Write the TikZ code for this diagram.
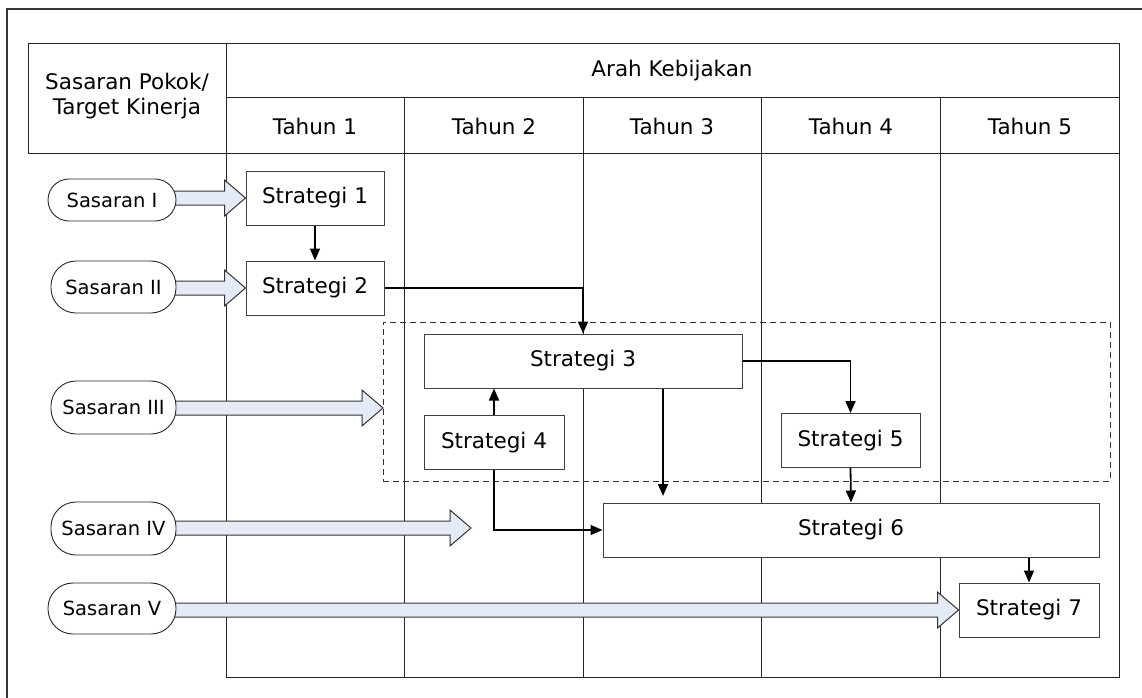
\documentclass[tikz,border=0pt]{standalone}
\usepackage{fontspec}
\setmainfont{DejaVu Sans}
\usetikzlibrary{arrows.meta,calc}

\definecolor{arrowfill}{HTML}{E4EBF6}
\pgfdeclarelayer{gridlayer}
\pgfdeclarelayer{arrowlayer}
\pgfsetlayers{gridlayer,arrowlayer,main}

\tikzset{
  grid/.style={draw=black!85, line width=1pt},
  head/.style={font=\fontsize{21.5}{25.5}\selectfont, inner sep=0pt},
  stepbox/.style={draw=black!75, line width=1pt, fill=white, minimum width=138pt,
    minimum height=54pt, inner sep=0pt, font=\fontsize{21.5}{25}\selectfont},
  goal/.style={draw=black!85, line width=0.9pt, fill=white, rounded corners=25pt,
    inner sep=0pt, font=\fontsize{19.5}{23}\selectfont},
  blockarrow/.style={draw=black!80, line width=1pt, fill=arrowfill, line join=miter},
  conn/.style={draw=black, line width=1.8pt, -{Triangle[length=12pt,width=10pt]}},
  group/.style={draw=black!80, line width=1pt, dash pattern=on 6pt off 4pt, inner sep=0pt}
}

% wide hollow arrow from a goal to the point where its strategy begins
\newcommand\goalarrow[2]{%
  \path let \p1=(#1), \p2=(#2) in [blockarrow]
    (\x1-6pt,\y2+7pt) -- (\x2-21pt,\y2+7pt) -- (\x2-21pt,\y2+18pt) -- (\x2,\y2)
    -- (\x2-21pt,\y2-18pt) -- (\x2-21pt,\y2-7pt) -- (\x1-6pt,\y2-7pt) -- cycle;}

\begin{document}
\begin{tikzpicture}[x=1pt,y=-1pt]
\useasboundingbox (0,0) rectangle (1142,698);

\begin{pgfonlayer}{gridlayer}
% outer frame
\draw[draw=black!80, line width=1.5pt] (7,698) -- (7,9) -- (1142,9);
% table grid
\draw[grid] (28,44) rectangle (226,153);
\draw[grid] (226,44) rectangle (1119,677);
\draw[grid] (226,98) -- (1119,98);
\draw[grid] (226,153) -- (1119,153);
\foreach \x in {404.6,583.2,761.8,940.4}
  \draw[grid] (\x,98) -- (\x,677);
\end{pgfonlayer}

% headings
\node[head, align=center] (hsas) at (127,96) {Sasaran Pokok/\\Target Kinerja};
\node[head] (harah) at (672,71) {Arah Kebijakan};
\node[head] (t1) at (315,126) {Tahun 1};
\node[head] (t2) at (494,126) {Tahun 2};
\node[head] (t3) at (672,126) {Tahun 3};
\node[head] (t4) at (851,126) {Tahun 4};
\node[head] (t5) at (1030,126) {Tahun 5};

% group of strategies 3-5
\node[group, minimum width=727pt, minimum height=159pt] (grp) at (746.5,401.5) {};

% goals
\node[goal, minimum width=128pt, minimum height=42pt, rounded corners=21pt] (s1) at (112,200) {Sasaran I};
\node[goal, minimum width=125pt, minimum height=52pt] (s2) at (113.5,287) {Sasaran II};
\node[goal, minimum width=125pt, minimum height=53pt] (s3) at (113.5,407.5) {Sasaran III};
\node[goal, minimum width=125pt, minimum height=53pt] (s4) at (113.5,528.5) {Sasaran IV};
\node[goal, minimum width=128pt, minimum height=51pt] (s5) at (112,608.5) {Sasaran V};

% strategies
\node[stepbox] (st1) at (315,198) {Strategi 1};
\node[stepbox] (st2) at (315,288) {Strategi 2};
\node[stepbox, minimum width=318pt] (st3) at (583,361) {Strategi 3};
\node[stepbox, minimum width=140pt] (st4) at (494,442.5) {Strategi 4};
\node[stepbox, minimum width=139pt] (st5) at (850.5,440.5) {Strategi 5};
\node[stepbox, minimum width=496pt] (st6) at (851,530) {Strategi 6};
\node[stepbox, minimum width=140pt] (st7) at (1029,610) {Strategi 7};

% arrow ends that stop short of a box
\coordinate (a3) at (383,408);
\coordinate (a4) at (471,528);
\coordinate (c3) at (663,496);

% goal arrows, kept beneath the goal shapes
\begin{pgfonlayer}{arrowlayer}
\goalarrow{s1.east}{st1.west}
\goalarrow{s2.east}{st2.west}
\goalarrow{s3.east}{a3}
\goalarrow{s4.east}{a4}
\goalarrow{s5.east}{st7.west}
\end{pgfonlayer}

% connectors between strategies
\draw[conn] (st1.south) -- (st2.north);
\draw[conn] (st2.east) -| (st3.north);
\draw[conn] (st4.north) -- (st4.north |- st3.south);
\draw[conn] (st4.south) |- (st6.west);
\draw[conn] (c3 |- st3.south) -- (c3);
\draw[conn] (st3.east) -| (st5.north);
\draw[conn] (st5.south) -- (st6.north);
\draw[conn] (st7.north |- st6.south) -- (st7.north);
\end{tikzpicture}
\end{document}
